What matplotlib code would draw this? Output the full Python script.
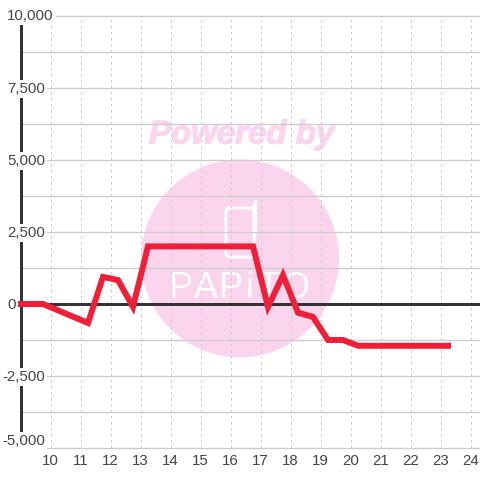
import matplotlib
matplotlib.use("Agg")
import matplotlib.pyplot as plt
import matplotlib.patheffects as pe
from matplotlib.patches import Circle, FancyBboxPatch
from matplotlib.transforms import blended_transform_factory, ScaledTranslation

plt.rcParams['font.family'] = ['Liberation Sans', 'DejaVu Sans']

hours = [9, 9.25, 9.75, 10.25, 10.75, 11.25, 11.75, 12.25, 12.75, 13.25, 13.75, 14.25, 14.75,
         15.25, 15.75, 16.25, 16.75, 17.25, 17.75, 18.25, 18.75, 19.25, 19.75, 20.25,
         20.75, 21.25, 21.75, 22.25, 22.75, 23.25]
values = [0, 0, 0, -220, -440, -660, 940, 830, -100, 2000, 2000, 2000, 2000,
          2000, 2000, 2000, 2000, -100, 1000, -300, -450, -1250, -1250, -1450,
          -1450, -1450, -1450, -1450, -1450, -1450]
x_ticks = list(range(10, 25))
y_major = [10000, 7500, 5000, 2500, 0, -2500, -5000]
y_labels = ['10,000', '7,500', '5,000', '2,500', '0', '-2,500', '-5,000']
y_grid = [10000, 8750, 7500, 6250, 5000, 3750, 2500, 1250, -1250, -2500, -3750, -5000]

PX = 72 / 100
fig = plt.figure(figsize=(4.8, 4.8), dpi=100, facecolor='white')

# watermark layer, in pixel coordinates
bg = fig.add_axes([0, 0, 1, 1], zorder=-1)
bg.set_xlim(0, 480); bg.set_ylim(480, 0); bg.axis('off')
PINK = '#fbd5ee'
bg.add_patch(Circle((240, 258.5), 99, fc=PINK, ec='none'))
bg.text(241.5, 135, 'Powered by', color=PINK, fontsize=33 * PX, fontweight='bold', fontstyle='italic',
        ha='center', va='center',
        path_effects=[pe.withStroke(linewidth=1.2 * PX, foreground=PINK)])
bg.add_patch(FancyBboxPatch((226, 208), 28, 49, boxstyle='round,pad=0,rounding_size=4',
                            fc='none', ec='white', lw=3 * PX))
bg.plot([254, 255.5, 255.5], [207, 201, 235], color='white', lw=3 * PX, solid_capstyle='round')
for ch, xp in zip('PAPiTO', [181, 206, 231, 250, 268, 295]):
    bg.text(xp, 289, ch, color='white', fontsize=36 * PX, fontweight='normal',
            ha='center', va='center')

ax = fig.add_axes([20.5 / 480, (480 - 448) / 480, 459.5 / 480, 432 / 480])
ax.patch.set_alpha(0)
ax.set_xlim(9, 9 + 459.5 / 30)
ax.set_ylim(-5000, 10000)
for s in ax.spines.values():
    s.set_visible(False)
ax.spines['left'].set_visible(True)
ax.spines['left'].set_linewidth(3 * PX)
ax.spines['left'].set_color('#333333')
ax.spines['left'].set_zorder(3)

GRID = '#cccccc'
for v in y_grid:
    ax.axhline(v, color=GRID, lw=1.3 * PX, zorder=1, clip_on=False)
for v in x_ticks:
    ax.axvline(v, color=GRID, lw=1 * PX, ls=(0, (2.5, 3.5)), zorder=1)
ax.axhline(0, color='#333333', lw=3 * PX, zorder=2, clip_on=False)
ax.plot(hours, values, color='#f01f38', lw=6 * PX, solid_joinstyle='miter',
        solid_capstyle='projecting', zorder=4, clip_on=False)

ax.set_yticks([])
ax.set_xticks(x_ticks)
ax.set_xticklabels([str(t) for t in x_ticks], fontsize=15 * PX, color='#444444')
ax.tick_params(axis='x', length=0, pad=4)

tr = blended_transform_factory(fig.transFigure, ax.transData)
for v, lab in zip(y_major, y_labels):
    x0 = 2 if lab.startswith('-') else 7
    # the first and last labels sit just inside the plot, the rest on their gridline
    offset = {10000: 0, -5000: 7}.get(v, -1)
    t = tr + ScaledTranslation(0, offset / 100, fig.dpi_scale_trans)
    ax.text(x0 / 480, v, lab, transform=t, fontsize=15 * PX, color='#444444', ha='left', va='center',
            zorder=5, clip_on=False,
            bbox=dict(facecolor='white', edgecolor='none', pad=1.5))

fig.savefig('out.png', dpi=100)
